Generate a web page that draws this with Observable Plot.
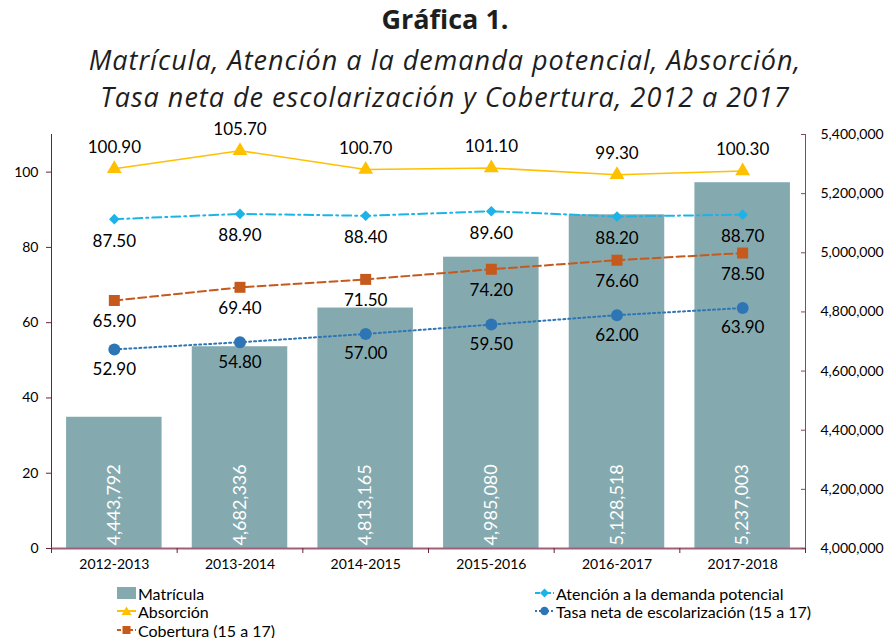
<!DOCTYPE html>
<html><head><meta charset="utf-8">
<script src="https://cdn.jsdelivr.net/npm/d3@7"></script>
<script src="https://cdn.jsdelivr.net/npm/@observablehq/plot@0.6"></script>
<style>
body{margin:0;background:#fff;}
#wrap{position:relative;width:890px;height:638px;overflow:hidden;font-family:Lato,sans-serif;background:#fff;}
.t{position:absolute;left:0;width:890px;text-align:center;white-space:nowrap;color:#1e1e1e;line-height:36px;}
#t1{top:1px;font-weight:bold;font-size:27px;font-family:"Open Sans";}
#t2{top:42px;font-style:italic;font-size:27px;letter-spacing:1px;font-family:"Open Sans";}
#t3{top:79px;font-style:italic;font-size:27px;letter-spacing:1px;font-family:"Open Sans";}
#chart{position:absolute;left:0;top:115px;}
.lg{position:absolute;height:18px;display:flex;align-items:center;font-family:Lato;font-size:16px;color:#000;white-space:nowrap;}
.lg svg{margin-right:2px;}
</style></head>
<body><div id="wrap">
<div class="t" id="t1">Gráfica 1.</div>
<div class="t" id="t2">Matrícula, Atención a la demanda potencial, Absorción,</div>
<div class="t" id="t3">Tasa neta de escolarización y Cobertura, 2012 a 2017</div>
<div id="chart"></div>
</div>
<script>
const categories = ["2012-2013","2013-2014","2014-2015","2015-2016","2016-2017","2017-2018"];
const matricula = [4443792, 4682336, 4813165, 4985080, 5128518, 5237003];
const absorcion = [100.9, 105.7, 100.7, 101.1, 99.3, 100.3];
const atencion = [87.5, 88.9, 88.4, 89.6, 88.2, 88.7];
const cobertura = [65.9, 69.4, 71.5, 74.2, 76.6, 78.5];
const tasa = [52.9, 54.8, 57.0, 59.5, 62.0, 63.9];
const leftTicks = [0, 20, 40, 60, 80, 100];
const rightTicks = [4000000, 4200000, 4400000, 4600000, 4800000, 5000000, 5200000, 5400000];
const leftDomain = [0, 110];
const rightDomain = [4000000, 5400000];
const seriesNames = ["Matrícula", "Atención a la demanda potencial", "Absorción", "Tasa neta de escolarización (15 a 17)", "Cobertura (15 a 17)"];

const toLeft = v => (v - rightDomain[0]) / (rightDomain[1] - rightDomain[0]) * (leftDomain[1] - leftDomain[0]) + leftDomain[0];
const fromLeft = u => (u - leftDomain[0]) / (leftDomain[1] - leftDomain[0]) * (rightDomain[1] - rightDomain[0]) + rightDomain[0];

const rows = categories.map((c, i) => ({i, cat: c, mat: matricula[i], abs: absorcion[i], ate: atencion[i], cob: cobertura[i], tasa: tasa[i]}));
const fmtInt = d3.format(",");
const fmt2 = d3.format(".2f");

const C = {bar: "#84aab0", abs: "#ffc000", ate: "#1cb3e8", cob: "#c55a1c", tasa: "#2e75b6", axL: "#6d1f3c", axR: "#8a4561", axB: "#a0607a"};
const HALF = 0.38;
const lblFont = 17;

const chart = Plot.plot({
  width: 890, height: 470,
  marginLeft: 51, marginRight: 85, marginTop: 19, marginBottom: 37,
  x: {domain: [-0.5, categories.length - 0.5], label: null},
  y: {domain: leftDomain, label: null},
  style: {fontFamily: "Lato", fontSize: "14px", color: "#000", background: "transparent"},
  marks: [
    Plot.rect(rows, {x1: d => d.i - HALF, x2: d => d.i + HALF, y1: d => 0, y2: d => toLeft(d.mat), fill: C.bar}),
    Plot.text(rows, {x: "i", y: d => 0, text: d => fmtInt(d.mat), rotate: -90, textAnchor: "start", fill: "white", fontSize: 18, dy: -3}),
    Plot.ruleX([-0.5], {stroke: C.axL}),
    Plot.ruleX([categories.length - 0.5], {stroke: C.axR}),
    Plot.ruleY([0], {stroke: C.axB, strokeWidth: 2}),
    Plot.axisY({ticks: leftTicks, anchor: "left", label: null, tickSize: 5, tickPadding: 8, stroke: C.axL, fill: "#000", fontSize: 14}),
    Plot.axisY({ticks: rightTicks.map(toLeft), anchor: "right", label: null, tickFormat: u => fmtInt(Math.round(fromLeft(u) / 1000) * 1000), tickSize: 5, dx: -5, tickPadding: 15, stroke: C.axR, fill: "#000", fontSize: 14}),
    Plot.axisX({ticks: d3.range(categories.length + 1).map(k => k - 0.5), label: null, tickSize: 5, tickFormat: () => "", stroke: C.axL}),
    Plot.axisX({ticks: d3.range(categories.length), label: null, tickFormat: i => categories[i], tickSize: 0, tickPadding: 11, fill: "#000", fontSize: 14}),
    Plot.line(rows, {x: "i", y: "abs", stroke: C.abs, strokeWidth: 1.6}),
    Plot.line(rows, {x: "i", y: "ate", stroke: C.ate, strokeWidth: 2, strokeDasharray: "9,4,2,4"}),
    Plot.line(rows, {x: "i", y: "cob", stroke: C.cob, strokeWidth: 2, strokeDasharray: "8,4"}),
    Plot.line(rows, {x: "i", y: "tasa", stroke: C.tasa, strokeWidth: 2, strokeDasharray: "2,3"}),
    Plot.dot(rows, {x: "i", y: "abs", symbol: "triangle", r: 5.5, fill: C.abs}),
    Plot.dot(rows, {x: "i", y: "ate", symbol: "diamond2", r: 4.8, fill: C.ate}),
    Plot.dot(rows, {x: "i", y: "cob", symbol: "square", r: 6.2, fill: C.cob}),
    Plot.dot(rows, {x: "i", y: "tasa", symbol: "circle", r: 6, fill: C.tasa}),
    Plot.text(rows, {x: "i", y: "abs", text: d => fmt2(d.abs), dy: -21, fontSize: lblFont, fill: "#000"}),
    Plot.text(rows, {x: "i", y: "ate", text: d => fmt2(d.ate), dy: 22, fontSize: lblFont, fill: "#000"}),
    Plot.text(rows, {x: "i", y: "cob", text: d => fmt2(d.cob), dy: 21, fontSize: lblFont, fill: "#000"}),
    Plot.text(rows, {x: "i", y: "tasa", text: d => fmt2(d.tasa), dy: 20, fontSize: lblFont, fill: "#000"})
  ]
});
document.getElementById("chart").appendChild(chart);

// Legend
const legendSpec = [
  {name: seriesNames[0], kind: "bar", left: 117, cy: 593},
  {name: seriesNames[2], kind: "abs", left: 117, cy: 611},
  {name: seriesNames[4], kind: "cob", left: 117, cy: 630},
  {name: seriesNames[1], kind: "ate", left: 535, cy: 593},
  {name: seriesNames[3], kind: "tasa", left: 535, cy: 611}
];
function swatch(kind) {
  const w = 19, h = 16, m = h / 2;
  if (kind === "bar") return `<svg width="${w}" height="${h}"><rect x="0" y="2" width="${w}" height="12" fill="${C.bar}"/></svg>`;
  const line = (stroke, dash) => `<line x1="0" x2="${w}" y1="${m}" y2="${m}" stroke="${stroke}" stroke-width="2" ${dash ? `stroke-dasharray="${dash}"` : ""}/>`;
  if (kind === "abs") return `<svg width="${w}" height="${h}">${line(C.abs)}<path d="M9.5,3.5 L14.5,12 L4.5,12Z" fill="${C.abs}"/></svg>`;
  if (kind === "cob") return `<svg width="${w}" height="${h}">${line(C.cob, "4,2")}<rect x="5.5" y="4" width="8" height="8" fill="${C.cob}"/></svg>`;
  if (kind === "ate") return `<svg width="${w}" height="${h}">${line(C.ate, "5,2,2,2")}<path d="M9.5,3.5 L14,8 L9.5,12.5 L5,8Z" fill="${C.ate}"/></svg>`;
  if (kind === "tasa") return `<svg width="${w}" height="${h}">${line(C.tasa, "2,2")}<circle cx="9.5" cy="8" r="4.2" fill="${C.tasa}"/></svg>`;
}
const wrap = document.getElementById("wrap");
legendSpec.forEach(s => {
  const d = document.createElement("div");
  d.className = "lg";
  d.style.left = s.left + "px";
  d.style.top = (s.cy - 9) + "px";
  d.innerHTML = swatch(s.kind) + `<span>${s.name}</span>`;
  wrap.appendChild(d);
});
</script>
</body></html>
